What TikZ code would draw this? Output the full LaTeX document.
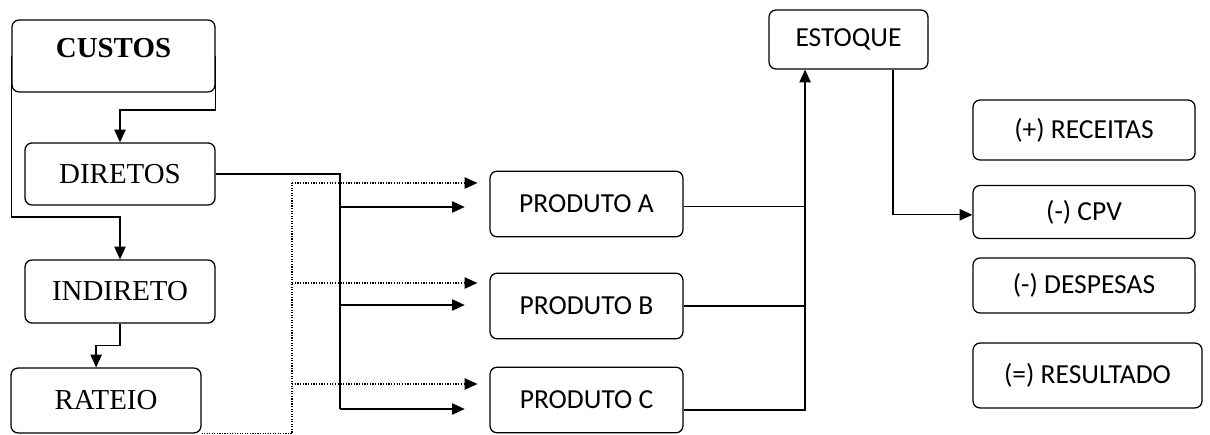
\documentclass[tikz,border=0pt]{standalone}
\usepackage{fontspec}
\setmainfont{Liberation Serif}
\newfontfamily\calibri{Carlito}
\usetikzlibrary{arrows.meta}

\begin{document}
\begin{tikzpicture}[x=0.709pt, y=-0.709pt,
    box/.style={draw, rounded corners=5pt, line width=0.9pt, inner sep=1pt,
        font=\fontsize{20.5}{23}\selectfont},
    sbox/.style={box, font=\calibri\fontsize{19.5}{22}\selectfont},
    arr/.style={-{Triangle[length=9pt,width=8pt]}, line width=0.9pt},
    dotline/.style={densely dotted, line width=0.8pt}]
    \useasboundingbox (0,0) rectangle (1210,435);

    % custos and how they split
    \node[box, minimum width=143.9pt, minimum height=51pt] (custos) at (113.5,56) {};
    \node[font=\fontsize{20.5}{23}\selectfont\bfseries] (custoslbl) at (113.5,48) {CUSTOS};
    \node[box, minimum width=134.7pt, minimum height=44pt] (diretos) at (120,174) {DIRETOS};
    \node[box, minimum width=134.7pt, minimum height=44.7pt] (indireto) at (120,291.5) {INDIRETO};
    \node[box, minimum width=134.7pt, minimum height=46pt] (rateio) at (106,400.5) {RATEIO};

    \draw[arr] (custos.east) -- (custos.east |- 0,110) -| (diretos.north);
    \draw[arr] (custos.west) -- (custos.west |- 0,217) -| (indireto.north);
    \draw[arr] (indireto.south) -- ++(0,22) -| ([xshift=-7pt]rateio.north);

    % produtos
    \foreach \p/\t/\y in {a/A/204, b/B/306, c/C/400}
        \node[sbox, minimum width=136.8pt, minimum height=46.5pt] (prod\p) at (586.5,\y) {PRODUTO \t};

    % diretos go straight to each produto
    \coordinate (dbus) at (340,409);
    \draw[line width=0.9pt] (diretos.east) -| (dbus);
    \foreach \p/\dy in {a/3, b/-1, c/9}
        \draw[arr] ([yshift=-\dy*0.709pt]prod\p.west -| dbus) -- ([xshift=-17.5pt,yshift=-\dy*0.709pt]prod\p.west);

    % rateio of the indiretos
    \coordinate (rbus) at (292,183);
    \draw[dotline] (rateio.south east) -| (rbus);
    \foreach \p/\dy in {a/-21, b/-23, c/-16}
        \draw[arr, dotline] ([yshift=-\dy*0.709pt]prod\p.west -| rbus) -- ([xshift=-8.5pt,yshift=-\dy*0.709pt]prod\p.west);

    % estoque and resultado
    \node[sbox, minimum width=112.7pt, minimum height=41.8pt] (estoque) at (848.5,39.5) {ESTOQUE};
    \node[sbox, minimum width=157.4pt, minimum height=42.5pt] (receitas) at (1084,130) {(+) RECEITAS};
    \node[sbox, minimum width=157.4pt, minimum height=37.6pt] (cpv) at (1084,212) {(-) CPV};
    \node[sbox, minimum width=157.4pt, minimum height=39pt] (despesas) at (1084,285.5) {(-) DESPESAS};
    \node[sbox, minimum width=162.4pt, minimum height=46pt] (resultado) at (1087.5,375.5) {(=) RESULTADO};

    \draw[line width=0.9pt] ([yshift=-2pt]proda.east) -- ++(122,0);
    \draw[line width=0.9pt] (prodb.east) -- ++(122,0);
    \draw[arr] ([yshift=-7pt]prodc.east) -| ([xshift=-30.8pt]estoque.south);
    \draw[arr] ([xshift=31.5pt]estoque.south) |- ([yshift=-2pt]cpv.west);
\end{tikzpicture}
\end{document}
